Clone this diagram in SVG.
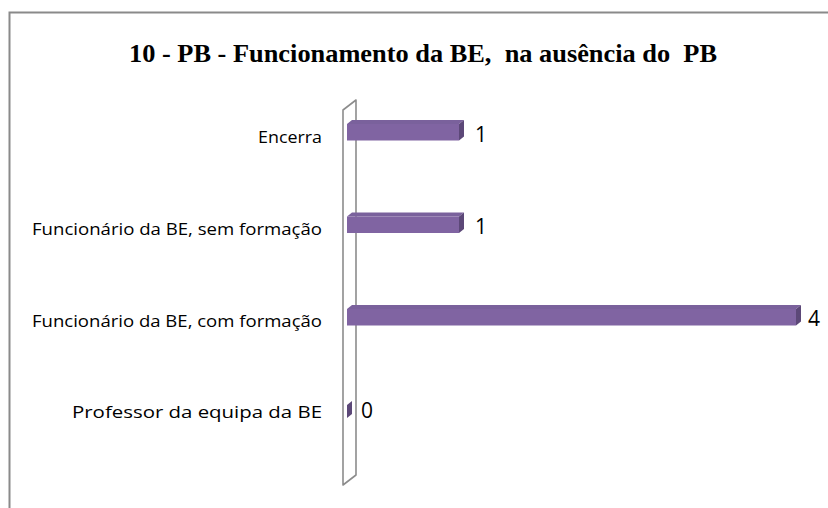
<svg xmlns="http://www.w3.org/2000/svg" width="828" height="508" viewBox="0 0 828 508">
<style>
.frame{fill:none;stroke:#8a8a8a;stroke-width:2}
.wall{fill:none;stroke:#8c8c8c;stroke-width:1.6;stroke-linejoin:round}
.front{fill:#8064A2}
.top{fill:#7A619C}
.side{fill:#5C4878}
.cat{font-family:"Open Sans","Liberation Sans",sans-serif;font-size:17px;fill:#000;text-anchor:end}
.val{font-family:"Open Sans","Liberation Sans",sans-serif;font-size:21px;fill:#000}
.title{font-family:"Liberation Serif","Times New Roman",serif;font-weight:bold;font-size:26px;fill:#000;white-space:pre}
</style>
<rect x="0" y="0" width="828" height="508" fill="#fff"/>
<path class="frame" d="M9.5,510 V12.5 H832"/>
<text class="title" xml:space="preserve" x="129" y="62" textLength="588" lengthAdjust="spacingAndGlyphs">10 - PB - Funcionamento da BE,  na ausência do  PB</text>
<g id="wall">
<path class="wall" d="M343,110 L356,100 L356,475 L343,485 Z"/>
</g>
<g id="bar-encerra">
<polygon class="top" points="347,124 352,120 464,120 459,124"/>
<polygon class="side" points="459,124 464,120 464,136.5 459,140.5"/>
<rect class="front" x="347" y="124" width="112" height="16.5"/>
<text class="val" x="475" y="141.5">1</text>
<text class="cat" x="322" y="143" textLength="64" lengthAdjust="spacingAndGlyphs">Encerra</text>
</g>
<g id="bar-sem">
<polygon class="top" points="347,216.5 352,212.5 464,212.5 459,216.5"/>
<polygon class="side" points="459,216.5 464,212.5 464,229 459,233"/>
<rect class="front" x="347" y="216.5" width="112" height="16.5"/>
<text class="val" x="475" y="234">1</text>
<text class="cat" x="322" y="235" textLength="290" lengthAdjust="spacingAndGlyphs">Funcionário da BE, sem formação</text>
</g>
<g id="bar-com">
<polygon class="top" points="347,309 352,305 801,305 796,309"/>
<polygon class="side" points="796,309 801,305 801,321.5 796,325.5"/>
<rect class="front" x="347" y="309" width="449" height="16.5"/>
<text class="val" x="808" y="326">4</text>
<text class="cat" x="322" y="327" textLength="290" lengthAdjust="spacingAndGlyphs">Funcionário da BE, com formação</text>
</g>
<g id="bar-prof">
<polygon class="side" points="347,405 352,401 352,414 347,418"/>
<text class="val" x="361" y="418">0</text>
<text class="cat" x="322" y="418" textLength="250" lengthAdjust="spacingAndGlyphs">Professor da equipa da BE</text>
</g>
</svg>
